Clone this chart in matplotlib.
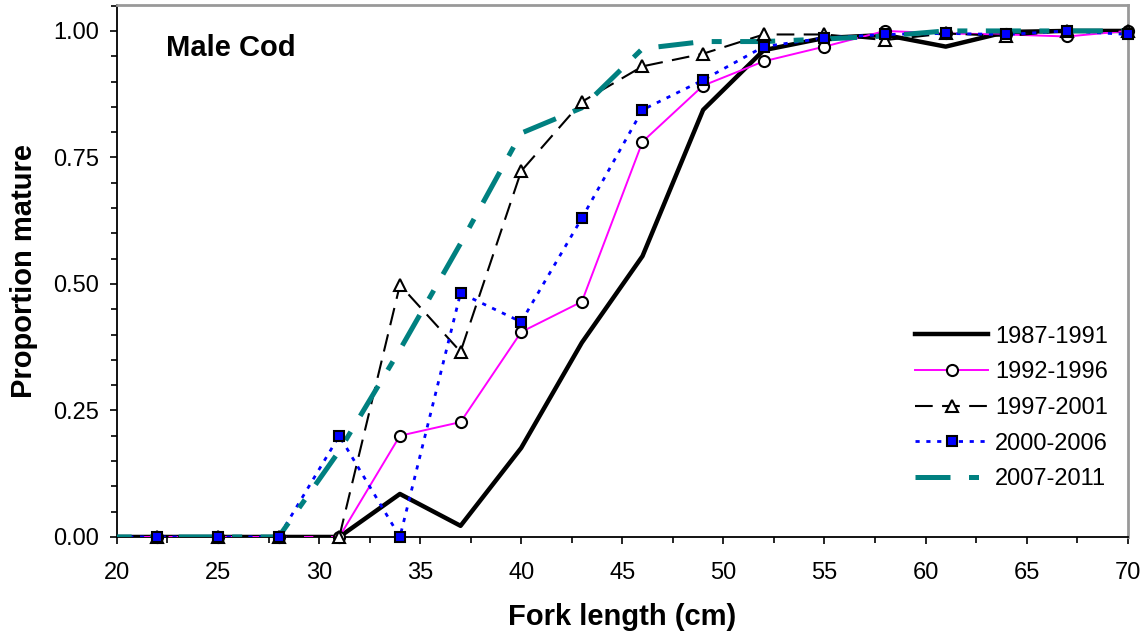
import numpy as np
import matplotlib
matplotlib.use('Agg')
import matplotlib.pyplot as plt
from matplotlib.lines import Line2D
from matplotlib.ticker import MultipleLocator, FormatStrFormatter

plt.rcParams['font.family'] = ['Liberation Sans', 'DejaVu Sans']

# fork length classes (cm)
length = [19, 22, 25, 28, 31, 34, 37, 40, 43, 46, 49, 52, 55, 58, 61, 64, 67, 70]

p_1987_1991 = [0, 0, 0, 0, 0, 0.085, 0.022, 0.176, 0.384, 0.555, 0.844, 0.962,
               0.986, 0.992, 0.969, 0.998, 1.0, 1.0]
p_1992_1996 = [0, 0, 0, 0, 0, 0.200, 0.227, 0.405, 0.465, 0.781, 0.892, 0.940,
               0.969, 1.0, 0.995, 0.993, 0.989, 1.0]
p_1997_2001 = [0, 0, 0, 0, 0, 0.498, 0.366, 0.723, 0.860, 0.930, 0.955, 0.993,
               0.993, 0.982, 0.995, 0.990, 1.0, 1.0]
p_2000_2006 = [0, 0, 0, 0, 0.200, 0.0, 0.482, 0.425, 0.630, 0.844, 0.903, 0.969,
               0.986, 0.993, 0.995, 0.993, 1.0, 0.993]
p_2007_2011 = [0, 0, 0, 0, 0.17, 0.37, 0.58, 0.798, 0.848, 0.965, 0.979, 0.979,
               0.984, 0.990, 1.0, 1.0, 1.0, 1.0]

labels = ['1987-1991', '1992-1996', '1997-2001', '2000-2006', '2007-2011']

styles = [
    dict(color='black', lw=3.2, ls='-', marker=None),
    dict(color='#FF00FF', lw=1.4, ls='-', marker='o', mfc='white', ms=8),
    dict(color='black', lw=1.5, ls=(0, (8.5, 4.5)), marker='^', mfc='white', ms=8),
    dict(color='#0000FF', lw=2.0, ls=(0, (1.5, 2.4)), marker='s', mfc='#0000FF', ms=7),
    dict(color='#008080', lw=3.6, ls=(0, (7, 3.7, 2, 3.7)), marker=None),
]

fig = plt.figure(figsize=(11.46, 6.4), dpi=100)
ax = fig.add_axes([0.102, 0.161, 0.882, 0.831])

series = [p_1987_1991, p_1992_1996, p_1997_2001, p_2000_2006, p_2007_2011]
handles = []
for vals, st, lab in zip(series, styles, labels):
    ax.plot(length, vals, color=st['color'], lw=st['lw'], ls=st['ls'], zorder=3)
    if st['marker']:
        ax.plot(length[1:], vals[1:], ls='none', marker=st['marker'], ms=st['ms'],
                mfc=st['mfc'], mec='black', mew=1.5, clip_on=False, zorder=4)
        handles.append(Line2D([], [], color=st['color'], lw=st['lw'], ls=st['ls'],
                              marker=st['marker'], ms=st['ms'], mfc=st['mfc'],
                              mec='black', mew=1.5))
    else:
        handles.append(Line2D([], [], color=st['color'], lw=st['lw'], ls=st['ls']))

ax.set_xlim(20, 70)
ax.set_ylim(0, 1.051)
ax.xaxis.set_major_locator(MultipleLocator(5))
ax.xaxis.set_minor_locator(MultipleLocator(2.5))
ax.yaxis.set_major_locator(MultipleLocator(0.25))
ax.yaxis.set_minor_locator(MultipleLocator(0.05))
ax.yaxis.set_major_formatter(FormatStrFormatter('%.2f'))
ax.set_yticks([0, 0.25, 0.5, 0.75, 1.0])

ax.tick_params(axis='both', which='major', direction='out', length=5, width=1.2,
               labelsize=17, color='black')
ax.tick_params(axis='both', which='minor', direction='out', length=4, width=1.2)
ax.tick_params(axis='x', which='major', pad=13)
ax.tick_params(axis='y', which='major', pad=8)

for s in ['left', 'bottom']:
    ax.spines[s].set_color('black')
    ax.spines[s].set_linewidth(1.3)
for s in ['top', 'right']:
    ax.spines[s].set_color('#999999')
    ax.spines[s].set_linewidth(2)

ax.set_xlabel('Fork length (cm)', fontsize=21, fontweight='bold', labelpad=14)
ax.set_ylabel('Proportion mature', fontsize=21, fontweight='bold', labelpad=11)

ax.text(0.0485, 0.919, 'Male Cod', transform=ax.transAxes, fontsize=21,
        fontweight='bold', va='center', ha='left')

fig.legend(handles, labels, loc='center left', bbox_to_anchor=(915 / 1146, 1 - 408 / 640),
           bbox_transform=fig.transFigure, frameon=False, fontsize=17,
           handlelength=3.1, handletextpad=0.3, labelspacing=0.58,
           borderpad=0, borderaxespad=0)

fig.savefig('out.png', dpi=100)
